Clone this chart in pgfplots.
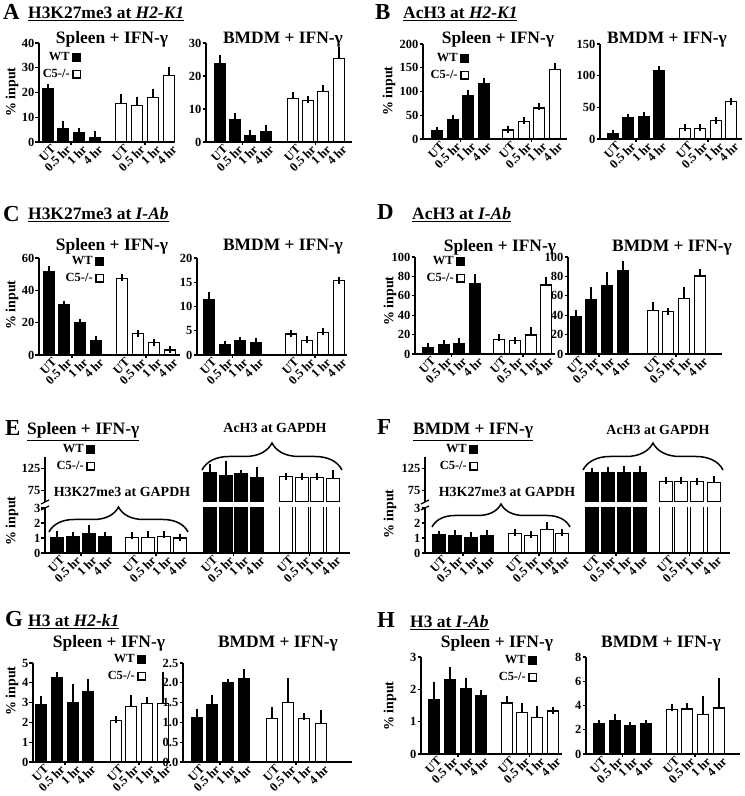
\documentclass[border=0pt]{standalone}
\usepackage{fontspec}
\setmainfont{Liberation Serif}
\usepackage{pgfplots}
\pgfplotsset{compat=1.18}
\usetikzlibrary{decorations.pathreplacing}

\newcommand\fTick{\bfseries\fontsize{12.5}{12.5}\selectfont}
\newcommand\fTitle{\bfseries\fontsize{17.5}{17.5}\selectfont}
\newcommand\fLet{\bfseries\fontsize{23}{23}\selectfont}
\newcommand\fAnn{\bfseries\fontsize{14}{14}\selectfont}
\newcommand\fYl{\bfseries\fontsize{14}{14}\selectfont}
\newcommand\catname[1]{\ifcase#1\or UT\or 0.5 hr\or 1 hr\or 4 hr\fi}
% category labels under the bars, rotated 45 degrees
\newcommand\labs[2]{\foreach \x [count=\i from 0] in {#2} {%
  \pgfmathtruncatemacro\k{mod(\i,4)+1}%
  \node[rotate=45, anchor=north east, font=\fTick, inner sep=0.3bp] at (\x+2.5,#1-1.5) {\catname{\k}};}}

\pgfplotsset{
 pr/.style={
   scale only axis, anchor=south west,
   axis x line*=bottom, axis y line*=left,
   axis line style={line width=1.3bp, black, -},
   tick style={line width=1.3bp, black},
   major tick length=3.5bp, tick align=outside,
   minor tick num=0,
   major x tick style={draw=none},
   every y tick label/.style={font=\fTick, inner sep=1bp},
   /pgf/number format/assume math mode=true,
   ymin=0, bar width=11.5bp,
   xticklabels={},
   extra x tick labels={},
   extra x tick style={major x tick style={draw=black, line width=1.3bp}},
   legend style={draw=none, fill=none, inner sep=0pt, outer sep=0pt, row sep=6bp, column sep=2bp, nodes={inner sep=0.6bp}, font=\fTick},
   legend plot pos=right, legend cell align=right,
 },
 eb/.style={error bars/y dir=plus, error bars/y explicit,
   error bars/error bar style={line width=1.3bp, black, solid},
   error bars/error mark options={mark size=3.5bp, line width=1.3bp, black, solid}},
 wt/.style={ybar, bar shift=0pt, fill=black, draw=black, line width=1.3bp, eb,
   legend image code/.code={\draw[fill=black, draw=black, line width=1.3bp] (0bp,-3.7bp) rectangle (7.4bp,3.7bp);}},
 c5/.style={ybar, bar shift=0pt, fill=white, draw=black, line width=1.3bp, eb,
   legend image code/.code={\draw[fill=white, draw=black, line width=1.3bp] (0bp,-3.7bp) rectangle (7.4bp,3.7bp);}},
}

\begin{document}
\begin{tikzpicture}[x=1bp,y=1bp]
\useasboundingbox (0,0) rectangle (745,796);

% ================= A =================
\begin{axis}[pr, at={(39bp,654bp)}, width=136bp, height=99bp, xmin=39, xmax=175, ymax=40,
  ytick={0,10,20,30,40}, xtick={48,63,79,95,121,137,153,169}, extra x ticks={71,145},
  legend style={at={(0.309,0.909)}, anchor=north east}]
\addplot[wt] table[x=x,y=y,y error=e]{
x y e
48 21.7 0.3
63 5.5 1.7
79 3.7 0.5
95 1.7 1.3
};
\addlegendentry{WT}
\addplot[c5] table[x=x,y=y,y error=e]{
x y e
121 15.5 2.3
137 14.8 2.0
153 17.9 2.0
169 26.9 2.0
};
\addlegendentry{C5-/-}
\end{axis}
\begin{axis}[pr, at={(206bp,654bp)}, width=146bp, height=99bp, xmin=206, xmax=352, ymax=30,
  ytick={0,10,20,30}, xtick={220,235,250,266,293,308,323,339}, extra x ticks={242.5,315.5}]
\addplot[wt] table[x=x,y=y,y error=e]{
x y e
220 23.7 1.5
235 6.9 0.8
250 1.8 0.7
266 3.2 1.0
};
\addplot[c5] table[x=x,y=y,y error=e]{
x y e
293 13.1 0.9
308 12.5 0.3
323 15.3 0.9
339 25.2 2.5
};
\end{axis}
\labs{654}{48,63,79,95,121,137,153,169}
\labs{654}{220,235,250,266,293,308,323,339}

% ================= B =================
\begin{axis}[pr, at={(423bp,657bp)}, width=144bp, height=95bp, xmin=423, xmax=567, ymax=200,
  ytick={0,50,100,150,200}, xtick={437,453,468,484,508,524,539,555}, extra x ticks={460.5,531.5},
  legend style={at={(0.319,0.905)}, anchor=north east}]
\addplot[wt] table[x=x,y=y,y error=e]{
x y e
437 17 1
453 41 3
468 92 3
484 116 5
};
\addlegendentry{WT}
\addplot[c5] table[x=x,y=y,y error=e]{
x y e
508 19 2
524 37 2
539 65 3
555 146 6
};
\addlegendentry{C5-/-}
\end{axis}
\begin{axis}[pr, at={(600bp,657bp)}, width=142bp, height=95bp, xmin=600, xmax=742, ymax=150,
  ytick={0,50,100,150}, xtick={613,628,644,659,685,700,716,731}, extra x ticks={636,708}]
\addplot[wt] table[x=x,y=y,y error=e]{
x y e
613 8 0.5
628 33 0.5
644 35 2
659 108 1
};
\addplot[c5] table[x=x,y=y,y error=e]{
x y e
685 17 1.5
700 17 0.5
716 29 0.5
731 59 0.5
};
\end{axis}
\labs{657}{437,453,468,484,508,524,539,555}
\labs{657}{613,628,644,659,685,700,716,731}

% ================= C =================
\begin{axis}[pr, at={(39bp,441bp)}, width=141bp, height=97bp, xmin=39, xmax=180, ymax=60,
  ytick={0,20,40,60}, xtick={49,64,80,96,122,138,154,170}, extra x ticks={72,146},
  legend style={at={(0.461,1.02)}, anchor=north east}]
\addplot[wt] table[x=x,y=y,y error=e]{
x y e
49 51.8 0.8
64 31.2 0.3
80 20.1 0.3
96 8.8 0.5
};
\addlegendentry{WT}
\addplot[c5] table[x=x,y=y,y error=e]{
x y e
122 47.2 0.8
138 13.2 0.2
154 7.6 0.3
170 3.0 0.3
};
\addlegendentry{C5-/-}
\end{axis}
\begin{axis}[pr, at={(197bp,441bp)}, width=150bp, height=97bp, xmin=197, xmax=347, ymax=20,
  ytick={0,5,10,15,20}, xtick={209,225,240,256,291,307,323,339}, extra x ticks={232.5,315}]
\addplot[wt] table[x=x,y=y,y error=e]{
x y e
209 11.5 0.7
225 2.1 0.1
240 2.9 0.15
256 2.6 0.15
};
\addplot[c5] table[x=x,y=y,y error=e]{
x y e
291 4.3 0.1
307 3.0 0.1
323 4.7 0.1
339 15.3 0.1
};
\end{axis}
\labs{441}{49,64,80,96,122,138,154,170}
\labs{441}{209,225,240,256,291,307,323,339}

% ================= D =================
\begin{axis}[pr, at={(415bp,442bp)}, width=140bp, height=97bp, xmin=415, xmax=555, ymax=100,
  ytick={0,20,40,60,80,100}, xtick={428,444,459,475,499,515,531,546}, extra x ticks={451.5,523},
  legend style={at={(0.357,1.01)}, anchor=north east}]
\addplot[wt] table[x=x,y=y,y error=e]{
x y e
428 6.5 1
444 10 0.5
459 10.3 3
475 72.5 6
};
\addlegendentry{WT}
\addplot[c5] table[x=x,y=y,y error=e]{
x y e
499 15 1.5
515 13.8 0.5
531 19.7 4
546 71 4.5
};
\addlegendentry{C5-/-}
\end{axis}
\begin{axis}[pr, at={(568bp,442bp)}, width=154bp, height=97bp, xmin=568, xmax=722, ymax=100,
  ytick={0,20,40,60,80,100}, xtick={576,591,607,623,653,668,684,700}, extra x ticks={599,676}]
\addplot[wt] table[x=x,y=y,y error=e]{
x y e
576 38.5 3.5
591 56.5 9
607 70.5 10
623 86 6
};
\addplot[c5] table[x=x,y=y,y error=e]{
x y e
653 45 5
668 43.5 0.5
684 57.5 8
700 80.5 3.5
};
\end{axis}
\labs{442}{428,444,459,475,499,515,531,546}
\labs{442}{576,591,607,623,653,668,684,700}

% ================= E =================
\begin{axis}[pr, at={(45bp,243bp)}, width=305bp, height=45bp, xmin=45, xmax=350, ymax=3,
  ytick={0,1,2,3}, bar width=13bp,
  xtick={57,73,89,105,132,148,164,180,210,226,241,257,286,302,317,333},
  extra x ticks={81,156,233.5,309.5},
  legend style={at={(0.164,2.42)}, anchor=north east}]
\addplot[wt] table[x=x,y=y,y error=e]{
x y e
57 1.0 0.25
73 1.1 0.08
89 1.3 0.3
105 1.1 0.05
};
\addlegendentry{WT}
\addplot[c5] table[x=x,y=y,y error=e]{
x y e
132 1.05 0.1
148 1.02 0.2
164 1.1 0.1
180 1.0 0.05
};
\addlegendentry{C5-/-}
\addplot[wt, forget plot] table[x=x,y=y,y error=e]{
x y e
210 115 12
226 108 26
241 112 1.5
257 105 15
};
\addplot[c5, forget plot] table[x=x,y=y,y error=e]{
x y e
286 106 1
302 105 1
317 105 1
333 102 11
};
\end{axis}
\begin{axis}[pr, at={(45bp,294bp)}, width=305bp, height=45bp, xmin=45, xmax=350, ymin=50, ymax=150,
  ytick={75,125}, bar width=13bp, axis x line=none, xtick=\empty]
\addplot[wt] table[x=x,y=y,y error=e]{
x y e
210 115 12
226 108 26
241 112 1.5
257 105 15
};
\addplot[c5] table[x=x,y=y,y error=e]{
x y e
286 106 1
302 105 1
317 105 1
333 102 11
};
\end{axis}
\labs{243}{57,73,89,105,132,148,164,180,210,226,241,257,286,302,317,333}

% ================= F =================
\begin{axis}[pr, at={(425bp,243bp)}, width=305bp, height=45bp, xmin=425, xmax=730, ymax=3,
  ytick={0,1,2,3}, bar width=13bp,
  xtick={439,455,471,487,515,531,547,562,592,608,624,640,666,681,697,714},
  extra x ticks={463,539,616,689.5},
  legend style={at={(0.174,2.42)}, anchor=north east}]
\addplot[wt] table[x=x,y=y,y error=e]{
x y e
439 1.2 0.05
455 1.15 0.15
471 1.0 0.15
487 1.15 0.12
};
\addlegendentry{WT}
\addplot[c5] table[x=x,y=y,y error=e]{
x y e
515 1.3 0.05
531 1.15 0.1
547 1.55 0.3
562 1.3 0.05
};
\addlegendentry{C5-/-}
\addplot[wt, forget plot] table[x=x,y=y,y error=e]{
x y e
592 116 2
608 116 5
624 116 6
640 115 7
};
\addplot[c5, forget plot] table[x=x,y=y,y error=e]{
x y e
666 96 1
681 96 1
697 95 1
714 94 6
};
\end{axis}
\begin{axis}[pr, at={(425bp,294bp)}, width=305bp, height=45bp, xmin=425, xmax=730, ymin=50, ymax=150,
  ytick={75,125}, bar width=13bp, axis x line=none, xtick=\empty]
\addplot[wt] table[x=x,y=y,y error=e]{
x y e
592 116 2
608 116 5
624 116 6
640 115 7
};
\addplot[c5] table[x=x,y=y,y error=e]{
x y e
666 96 1
681 96 1
697 95 1
714 94 6
};
\end{axis}
\labs{243}{439,455,471,487,515,531,547,562,592,608,624,640,666,681,697,714}

% ================= G =================
\begin{axis}[pr, at={(33bp,34bp)}, width=137bp, height=99bp, xmin=33, xmax=170, ymax=5,
  ytick={0,1,2,3,4,5}, xtick={41,57,73,88,116,131,147,163}, extra x ticks={65,139},
  legend style={at={(0.825,1.09)}, anchor=north east}]
\addplot[wt] table[x=x,y=y,y error=e]{
x y e
41 2.9 0.25
57 4.25 0.12
73 3.0 0.75
88 3.55 0.45
};
\addlegendentry{WT}
\addplot[c5] table[x=x,y=y,y error=e]{
x y e
116 2.1 0.03
131 2.8 0.4
147 2.95 0.15
163 2.95 1.4
};
\addlegendentry{C5-/-}
\end{axis}
\begin{axis}[pr, at={(183bp,34bp)}, width=169bp, height=99bp, xmin=183, xmax=352, ymax=2.5,
  ytick={0,0.5,1,1.5,2,2.5}, xtick={197,212,228,244,272,288,304,321}, extra x ticks={220,296},
  yticklabel style={/pgf/number format/fixed, /pgf/number format/fixed zerofill, /pgf/number format/precision=1}]
\addplot[wt] table[x=x,y=y,y error=e]{
x y e
197 1.12 0.13
212 1.46 0.15
228 2.0 0.0
244 2.1 0.15
};
\addplot[c5] table[x=x,y=y,y error=e]{
x y e
272 1.1 0.2
288 1.5 0.53
304 1.1 0.05
321 0.97 0.25
};
\end{axis}
\labs{34}{41,57,73,88,116,131,147,163}
\labs{34}{197,212,228,244,272,288,304,321}

% ================= H =================
\begin{axis}[pr, at={(421bp,42bp)}, width=141bp, height=97bp, xmin=421, xmax=562, ymax=3,
  ytick={0,1,2,3}, xtick={434,450,466,481,507,522,537,553}, extra x ticks={458,529.5},
  legend style={at={(0.823,1.02)}, anchor=north east}]
\addplot[wt] table[x=x,y=y,y error=e]{
x y e
434 1.68 0.45
450 2.3 0.28
466 2.02 0.22
481 1.8 0.07
};
\addlegendentry{WT}
\addplot[c5] table[x=x,y=y,y error=e]{
x y e
507 1.58 0.1
522 1.28 0.2
537 1.12 0.25
553 1.33 0.02
};
\addlegendentry{C5-/-}
\end{axis}
\begin{axis}[pr, at={(586bp,42bp)}, width=154bp, height=97bp, xmin=586, xmax=740, ymax=8,
  ytick={0,2,4,6,8}, xtick={599,615,630,646,672,687,703,719}, extra x ticks={622.5,695}]
\addplot[wt] table[x=x,y=y,y error=e]{
x y e
599 2.47 0.03
615 2.74 0.26
630 2.3 0.05
646 2.52 0.03
};
\addplot[c5] table[x=x,y=y,y error=e]{
x y e
672 3.67 0.17
687 3.7 0.25
703 3.26 1.23
719 3.8 2.15
};
\end{axis}
\labs{42}{434,450,466,481,507,522,537,553}
\labs{42}{599,615,630,646,672,687,703,719}

% ================= texts =================
\begin{scope}[every node/.style={inner sep=0pt}]
\node[anchor=base west, font=\fLet] at (3,776) {A};
\node[anchor=base west, font=\fLet] at (375,776) {B};
\node[anchor=base west, font=\fLet] at (3,574) {C};
\node[anchor=base west, font=\fLet] at (377,576) {D};
\node[anchor=base west, font=\fLet] at (5,360) {E};
\node[anchor=base west, font=\fLet] at (377,361) {F};
\node[anchor=base west, font=\fLet] at (5,169) {G};
\node[anchor=base west, font=\fLet] at (377,168) {H};

\node[anchor=base west, font=\fTitle] at (28,777) {\underline{H3K27me3 at \textit{H2-K1}}};
\node[anchor=base west, font=\fTitle] at (403,777) {\underline{AcH3 at \textit{H2-K1}}};
\node[anchor=base west, font=\fTitle] at (28,576) {\underline{H3K27me3 at \textit{I-Ab}}};
\node[anchor=base west, font=\fTitle] at (412,576) {\underline{AcH3 at \textit{I-Ab}}};
\node[anchor=base west, font=\fTitle] at (27,361) {\underline{Spleen + IFN-γ}};
\node[anchor=base west, font=\fTitle] at (413,361) {\underline{BMDM + IFN-γ}};
\node[anchor=base west, font=\fTitle] at (28,169) {\underline{H3 at \textit{H2-k1}}};
\node[anchor=base west, font=\fTitle] at (410,168) {\underline{H3 at \textit{I-Ab}}};

\node[anchor=base, font=\fTitle] at (112,752) {Spleen + IFN-γ};
\node[anchor=base, font=\fTitle] at (283,752) {BMDM + IFN-γ};
\node[anchor=base, font=\fTitle] at (498,752) {Spleen + IFN-γ};
\node[anchor=base, font=\fTitle] at (667,752) {BMDM + IFN-γ};
\node[anchor=base, font=\fTitle] at (112,545) {Spleen + IFN-γ};
\node[anchor=base, font=\fTitle] at (283,545) {BMDM + IFN-γ};
\node[anchor=base, font=\fTitle] at (500,544) {Spleen + IFN-γ};
\node[anchor=base, font=\fTitle] at (672,544) {BMDM + IFN-γ};
\node[anchor=base, font=\fTitle] at (109,148) {Spleen + IFN-γ};
\node[anchor=base, font=\fTitle] at (278,148) {BMDM + IFN-γ};
\node[anchor=base, font=\fTitle] at (497,148) {Spleen + IFN-γ};
\node[anchor=base, font=\fTitle] at (661,148) {BMDM + IFN-γ};

\node[anchor=base, font=\fAnn] at (275,363) {AcH3 at GAPDH};
\node[anchor=base, font=\fAnn] at (122,299) {H3K27me3 at GAPDH};
\node[anchor=base, font=\fAnn] at (658,361) {AcH3 at GAPDH};
\node[anchor=base, font=\fAnn] at (507,299) {H3K27me3 at GAPDH};

\node[rotate=90, font=\fYl] at (12,704) {\% input};
\node[rotate=90, font=\fYl] at (389,705) {\% input};
\node[rotate=90, font=\fYl] at (12,491) {\% input};
\node[rotate=90, font=\fYl] at (390,495) {\% input};
\node[rotate=90, font=\fYl] at (12,275) {\% input};
\node[rotate=90, font=\fYl] at (390,282) {\% input};
\node[rotate=90, font=\fYl] at (12,105) {\% input};
\node[rotate=90, font=\fYl] at (390,90) {\% input};
\end{scope}

% braces
\draw[line width=1.5bp, decorate, decoration={brace, amplitude=25bp}] (49,264) -- (188,264);
\draw[line width=1.5bp, decorate, decoration={brace, amplitude=27bp}] (202,326) -- (342,326);
\draw[line width=1.5bp, decorate, decoration={brace, amplitude=23bp}] (432,269) -- (570,269);
\draw[line width=1.5bp, decorate, decoration={brace, amplitude=27bp}] (583,326) -- (723,326);

% axis breaks
\draw[line width=1.2bp] (41,286) -- (49,290);
\draw[line width=1.2bp] (41,292) -- (49,296);
\draw[line width=1.2bp] (421,286) -- (429,290);
\draw[line width=1.2bp] (421,292) -- (429,296);
\end{tikzpicture}
\end{document}
